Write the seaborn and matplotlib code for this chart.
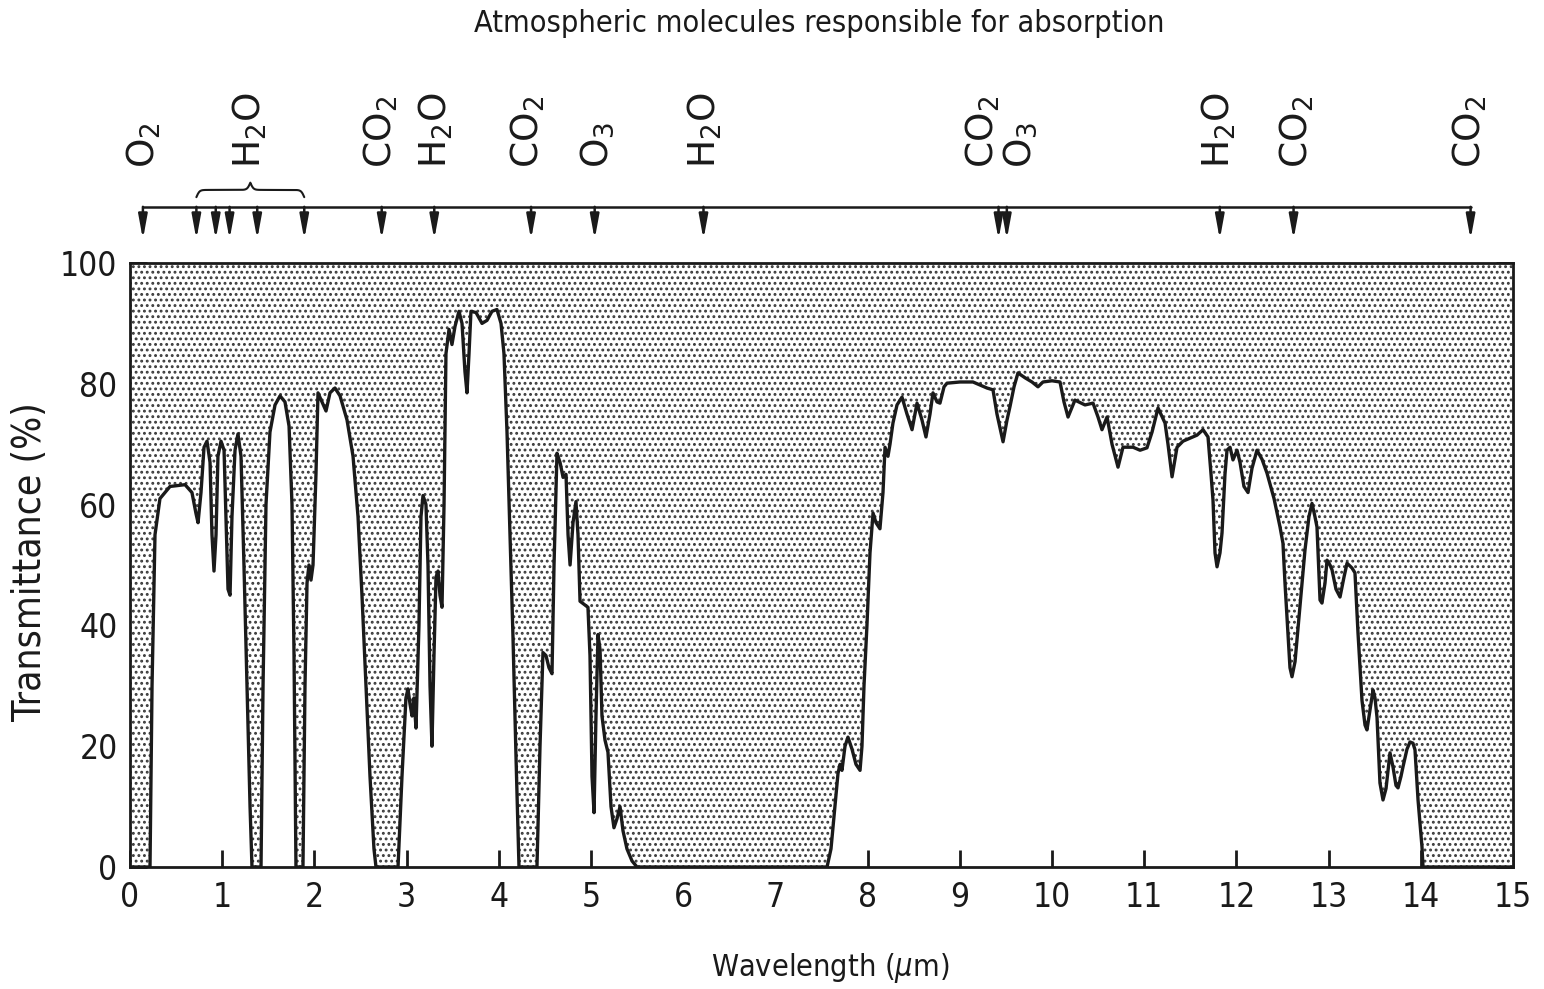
import numpy as np
import seaborn as sns
from matplotlib import pyplot as plt
from matplotlib import font_manager

# transmittance curve (wavelength in um, transmittance in %)
wavelength_um = [
    0.0, 0.217, 0.239, 0.271, 0.325, 0.434, 0.597, 0.672, 0.716, 0.738, 0.770, 0.803, 0.835, 0.868, 0.889,
    0.911, 0.933, 0.954, 0.987, 1.020, 1.041, 1.063, 1.085, 1.106, 1.139, 1.171, 1.204, 1.236, 1.269,
    1.302, 1.323,
    1.421, 1.443, 1.475, 1.518, 1.573, 1.627, 1.681, 1.725, 1.757, 1.779, 1.800,
    1.876, 1.898, 1.920, 1.941, 1.963, 1.985, 2.017, 2.039, 2.082, 2.126, 2.169, 2.223, 2.278, 2.354,
    2.419, 2.473, 2.516, 2.560, 2.603, 2.646, 2.668,
    2.907, 2.950, 2.993, 3.015, 3.037, 3.059, 3.080, 3.102, 3.134, 3.156, 3.178, 3.210, 3.232, 3.254,
    3.275, 3.297, 3.319, 3.341, 3.362, 3.384, 3.406, 3.427, 3.460, 3.492, 3.525, 3.568, 3.601, 3.633,
    3.655, 3.677, 3.698, 3.753, 3.818, 3.872, 3.926, 3.980, 4.024, 4.056, 4.089, 4.121, 4.154, 4.187,
    4.219,
    4.414, 4.447, 4.479, 4.512, 4.544, 4.577, 4.599, 4.631, 4.664, 4.697, 4.729, 4.751, 4.773, 4.805,
    4.837, 4.859, 4.881, 4.924, 4.967, 4.989, 5.011, 5.033, 5.054, 5.076, 5.098, 5.119, 5.152, 5.184,
    5.217, 5.249, 5.282, 5.315, 5.347, 5.390, 5.445, 5.499,
    7.560, 7.603, 7.646, 7.679, 7.701, 7.722, 7.755, 7.787, 7.831, 7.874, 7.918, 7.939, 7.961, 7.993,
    8.026, 8.059, 8.091, 8.134, 8.167, 8.189, 8.221, 8.243, 8.275, 8.319, 8.373, 8.427, 8.482, 8.536,
    8.590, 8.633, 8.677, 8.709, 8.753, 8.785, 8.829, 8.861, 9.002, 9.143, 9.295, 9.360, 9.403, 9.469,
    9.512, 9.544, 9.588, 9.631, 9.707, 9.783, 9.848, 9.902, 10.000, 10.087, 10.130, 10.174, 10.249,
    10.358, 10.445, 10.499, 10.542, 10.597, 10.651, 10.716, 10.770, 10.879, 10.955, 11.030, 11.085,
    11.150, 11.226, 11.258, 11.302, 11.356, 11.421, 11.497, 11.573, 11.638, 11.692, 11.725, 11.746,
    11.768, 11.790, 11.822, 11.844, 11.876, 11.898, 11.931, 11.963, 12.007, 12.039, 12.082, 12.126,
    12.169, 12.223, 12.278, 12.332, 12.408, 12.473, 12.505, 12.527, 12.549, 12.581, 12.603, 12.636,
    12.657, 12.701, 12.744, 12.787, 12.820, 12.852, 12.874, 12.896, 12.907, 12.928, 12.961, 12.983,
    13.015, 13.037, 13.080, 13.124, 13.167, 13.200, 13.254, 13.286, 13.319, 13.362, 13.395, 13.416,
    13.449, 13.482, 13.503, 13.525, 13.557, 13.590, 13.623, 13.666, 13.698, 13.731, 13.753, 13.785,
    13.807, 13.850, 13.883, 13.915, 13.937, 13.970, 14.013, 14.024, 15.0,
]
transmittance_pct = [
    0, 0, 30, 55, 61, 63, 63.3, 62, 58.5, 57, 62, 69.5, 70.5, 67, 55,
    49, 55, 68, 70.5, 69, 58, 46, 45, 58, 69, 71.7, 68, 50, 30,
    10, 0,
    0, 30, 60, 72, 76.5, 78, 77, 73, 60, 35, 0,
    0, 30, 47, 50, 47.5, 50, 65, 78.5, 77, 75.5, 78.5, 79.3, 78, 74,
    68, 58, 45, 30, 15, 3, 0,
    0, 15, 28, 29.5, 27, 25, 28, 23, 40, 58, 61.5, 60, 50, 30,
    20, 35, 48, 49, 45, 43, 60, 85, 89, 86.5, 89.5, 92, 90, 82,
    78.5, 85, 92, 91.8, 90, 90.5, 92, 92.3, 90, 85, 72, 55, 38, 18,
    0,
    0, 20, 35.5, 35, 33, 32, 50, 68.5, 67, 64.5, 65, 55, 50, 57,
    60.5, 55, 44, 43.5, 43, 35, 15, 9, 25, 38.5, 36, 25, 21, 19,
    10, 6.5, 8, 10, 6, 3, 1, 0,
    0, 3, 10, 15.5, 17, 16, 20, 21.5, 19.5, 17, 16, 20, 30, 40,
    52, 58.6, 57, 56, 62, 69.5, 68, 70, 73.5, 76.5, 77.8, 75, 72.4, 76.8,
    74, 71.2, 75, 78.5, 77, 76.8, 79.5, 80.1, 80.3, 80.3, 79.3, 79, 75, 70.4,
    74, 76.2, 79.5, 81.8, 81, 80.3, 79.5, 80.3, 80.5, 80.3, 77, 74.5, 77.3,
    76.5, 76.8, 74.5, 72.4, 74.5, 70, 66.2, 69.5, 69.5, 69, 69.4, 72,
    76, 73.5, 70, 64.6, 69.5, 70.5, 71, 71.5, 72.4, 71.2, 65, 60.8,
    52, 49.7, 52, 55.3, 65, 69, 69.5, 67.4, 69, 67, 63, 62,
    66, 69, 67.5, 65.2, 61, 56.3, 53.6, 47, 41.4, 33, 31.5, 34,
    37.6, 45, 52.5, 58, 60.2, 58, 56.3, 48, 44.2, 43.7, 47, 50.8,
    50, 49.2, 46, 44.7, 48, 50.3, 49.5, 48.7, 38.7, 27.6, 23.5, 22.7,
    26, 29.3, 28, 24.8, 13.9, 11.1, 13, 18.9, 16.6, 13.5, 13.1, 15,
    16.6, 19.5, 20.7, 20.5, 19.4, 11.1, 3.3, 0, 0,
]

# absorption band markers above the plot
arrow_um = [0.14, 0.72, 0.93, 1.08, 1.38, 1.89, 2.73, 3.30, 4.35, 5.04, 6.22,
            9.42, 9.51, 11.82, 12.62, 14.54]
molecule_labels = ['O$_2$', 'H$_2$O', 'CO$_2$', 'H$_2$O', 'CO$_2$', 'O$_3$', 'H$_2$O',
                   'CO$_2$', 'O$_3$', 'H$_2$O', 'CO$_2$', 'CO$_2$']
label_um = [0.15, 1.30, 2.72, 3.32, 4.31, 5.07, 6.23, 9.25, 9.65, 11.81, 12.66, 14.53]

sns.set_theme(style='ticks')
plt.rcParams['font.family'] = ['DejaVu Sans']
plt.rcParams['mathtext.default'] = 'regular'
plt.rcParams['hatch.linewidth'] = 1.3
plt.rcParams['hatch.color'] = '#3a3a3a'

# condensed face if there is one, otherwise shrink the text a bit
cond = font_manager.findfont(font_manager.FontProperties(family='DejaVu Sans', stretch='condensed'))
if 'Condensed' in cond:
    plt.rcParams['font.stretch'] = 'condensed'
    scale = 1.0
else:
    scale = 0.84

fig = plt.figure(figsize=(15.44, 9.89), dpi=100)
ax = fig.add_axes([130 / 1544, 1 - 867 / 989, 1383 / 1544, 604 / 989])

x = np.array(wavelength_um)
y = np.array(transmittance_pct)
ax.fill_between(x, y, 100, facecolor='white', edgecolor='#3a3a3a', hatch='...', linewidth=0)
sns.lineplot(x=x, y=y, color='#1a1a1a', linewidth=2.4, sort=False, estimator=None, ax=ax)

ax.set_xlim(0, 15)
ax.set_ylim(0, 100)
ax.set_xticks(range(0, 16))
ax.set_yticks(range(0, 101, 20))
ax.tick_params(direction='in', length=12, width=2, labelsize=24 * scale, colors='#1a1a1a', pad=9)
ax.tick_params(axis='y', right=True)
ax.tick_params(axis='x', top=False, pad=10)
for s in ax.spines.values():
    s.set_linewidth(2)
    s.set_color('#1a1a1a')
ax.set_xlabel('')
ax.set_ylabel('')

fig.text(30 / 1544, 1 - 562 / 989, 'Transmittance (%)', rotation=90, ha='center', va='center',
         fontsize=28 * scale, color='#1a1a1a')
fig.text(830 / 1544, 1 - 968 / 989, r'Wavelength ($\mathit{\mu}$m)', ha='center', va='center',
         fontsize=22 * scale, color='#1a1a1a')
fig.text(819 / 1544, 1 - 24 / 989, 'Atmospheric molecules responsible for absorption', ha='center',
         va='center', fontsize=22 * scale, color='#1a1a1a')

# bar with arrows pointing to the absorption bands
line_y = 109.3
ax.plot([arrow_um[0], arrow_um[-1]], [line_y, line_y], color='#1a1a1a', lw=1.8, clip_on=False)
for xa in arrow_um:
    ax.annotate('', xy=(xa, 103.9), xytext=(xa, line_y), annotation_clip=False,
                arrowprops=dict(arrowstyle='-|>,head_length=1.2,head_width=0.22', color='#1a1a1a', lw=1.8,
                                shrinkA=0, shrinkB=0))

# curly brace over the H2O group
bx0, bx1 = arrow_um[1], arrow_um[5]
u = np.linspace(0, 0.5, 150)
beta = 70
half = 1 / (1 + np.exp(-beta * u)) + 1 / (1 + np.exp(-beta * (u - 0.5)))
bu = np.concatenate([u, 1 - u[::-1]])
bh = np.concatenate([half, half[::-1]])
ax.plot(bx0 + bu * (bx1 - bx0), 110.9 + 2.4 * (bh - 0.5), color='#1a1a1a', lw=1.5, clip_on=False)

for lab, xl in zip(molecule_labels, label_um):
    ax.text(xl, 115.8, lab, rotation=90, ha='center', va='bottom', fontsize=27, stretch='normal',
            color='#1a1a1a', clip_on=False)

fig.savefig('out.png', dpi=100)
